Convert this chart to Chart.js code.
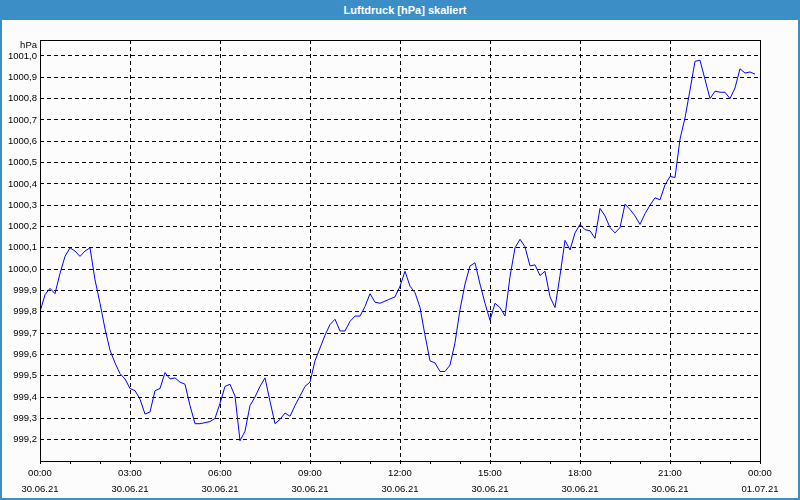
<!DOCTYPE html>
<html lang="de">
<head>
<meta charset="UTF-8">
<title>Luftdruck [hPa] skaliert</title>
<script src="https://cdn.jsdelivr.net/npm/chart.js"></script>
<style>
    body { margin: 0; width: 800px; height: 500px; background: #fbfcfb; position: relative; overflow: hidden; font-family: "Liberation Sans", Arial, sans-serif; }
    .titel { position: absolute; left: 0; top: 0; width: 800px; height: 20px; background: #3c8fc6; color: #fff; font-weight: bold; font-size: 11px; line-height: 20px; text-align: center; box-sizing: border-box; padding-left: 10px; }
    .rahmen { position: absolute; left: 0; top: 0; width: 800px; height: 500px; box-sizing: border-box; border: 2px solid #3c8fc6; pointer-events: none; }
    canvas { position: absolute; left: 0; top: 0; }
</style>
</head>
<body>
<canvas id="grafico" width="800" height="500"></canvas>
<div class="titel">Luftdruck [hPa] skaliert</div>
<div class="rahmen"></div>

<script>
    // Messwerte alle 10 Minuten, 30.06.21 00:00 bis 23:50
    const intervallMinuten = 10;
    const luftdruck = [
        999.80, 999.88, 999.91, 999.885, 999.98, 1000.06, 1000.10, 1000.085, 1000.06, 1000.085,
        1000.10, 999.95, 999.84, 999.72, 999.62, 999.56, 999.51, 999.485, 999.44, 999.43,
        999.39, 999.32, 999.33, 999.43, 999.44, 999.515, 999.485, 999.49, 999.47, 999.46,
        999.36, 999.275, 999.275, 999.28, 999.285, 999.30, 999.37, 999.45, 999.46, 999.405,
        999.195, 999.24, 999.36, 999.40, 999.45, 999.49, 999.38, 999.275, 999.295, 999.325,
        999.31, 999.36, 999.405, 999.45, 999.47, 999.57, 999.63, 999.69, 999.74, 999.765,
        999.71, 999.71, 999.755, 999.78, 999.78, 999.825, 999.885, 999.845, 999.84, 999.85,
        999.86, 999.87, 999.92, 999.99, 999.92, 999.89, 999.82, 999.69, 999.57, 999.56,
        999.52, 999.52, 999.55, 999.655, 999.81, 999.93, 1000.015, 1000.03, 999.93, 999.84,
        999.76, 999.84, 999.82, 999.78, 999.965, 1000.10, 1000.14, 1000.105, 1000.015, 1000.02,
        999.97, 999.99, 999.87, 999.82, 999.97, 1000.135, 1000.09, 1000.17, 1000.21, 1000.185,
        1000.18, 1000.145, 1000.285, 1000.25, 1000.195, 1000.17, 1000.195, 1000.305, 1000.28, 1000.25,
        1000.21, 1000.26, 1000.30, 1000.335, 1000.325, 1000.395, 1000.435, 1000.43, 1000.61, 1000.71,
        1000.84, 1000.975, 1000.98, 1000.89, 1000.80, 1000.835, 1000.83, 1000.83, 1000.80, 1000.85,
        1000.94, 1000.92, 1000.925, 1000.915
    ];

    const xZeiten = ['00:00', '03:00', '06:00', '09:00', '12:00', '15:00', '18:00', '21:00', '00:00'];
    const xDaten = ['30.06.21', '30.06.21', '30.06.21', '30.06.21', '30.06.21', '30.06.21', '30.06.21', '30.06.21', '01.07.21'];
    const yTicks = [999.2, 999.3, 999.4, 999.5, 999.6, 999.7, 999.8, 999.9, 1000.0,
        1000.1, 1000.2, 1000.3, 1000.4, 1000.5, 1000.6, 1000.7, 1000.8, 1000.9, 1001.0];

    const punkte = luftdruck.map((v, i) => ({ x: i * intervallMinuten, y: v }));

    // Rahmen um die Zeichenfläche und Einheit oben links
    const rahmenPlugin = {
        id: 'rahmen',
        afterDraw(chart) {
            const { ctx, chartArea: a } = chart;
            ctx.save();
            ctx.strokeStyle = '#000';
            ctx.lineWidth = 1;
            ctx.strokeRect(a.left + 0.5, a.top + 0.5, a.right - a.left, a.bottom - a.top);
            ctx.fillStyle = '#000';
            ctx.font = '9.5px "Liberation Sans"';
            ctx.textAlign = 'right';
            ctx.textBaseline = 'middle';
            ctx.fillText('hPa', a.left - 3, a.top + 5);
            ctx.restore();
        }
    };

    Chart.defaults.font.family = '"Liberation Sans", Arial, sans-serif';
    Chart.defaults.font.size = 9.5;
    Chart.defaults.color = '#000';

    new Chart(document.getElementById('grafico'), {
        type: 'line',
        data: {
            datasets: [{
                data: punkte,
                borderColor: '#0000ff',
                borderWidth: 1,
                pointRadius: 0,
                tension: 0,
                fill: false
            }]
        },
        options: {
            responsive: false,
            animation: false,
            layout: { padding: { top: 40, right: 40, bottom: 0, left: 0 } },
            plugins: { legend: { display: false }, tooltip: { enabled: false } },
            scales: {
                x: {
                    type: 'linear',
                    min: 0,
                    max: 1440,
                    afterFit: (scale) => { scale.height = 39; },
                    border: { display: false, dash: [4, 3] },
                    grid: {
                        color: (c) => (c.tick && c.tick.value % 180 === 0) ? '#000' : 'rgba(0,0,0,0)',
                        tickColor: '#000',
                        tickLength: 3,
                        tickBorderDash: []
                    },
                    ticks: {
                        stepSize: 60,
                        autoSkip: false,
                        maxRotation: 0,
                        padding: 1,
                        font: { size: 9.5, lineHeight: '16px' },
                        callback: (v) => v % 180 === 0 ? [xZeiten[v / 180], xDaten[v / 180]] : ''
                    }
                },
                y: {
                    min: 999.1,
                    max: 1001.075,
                    afterFit: (scale) => { scale.width = 40; },
                    afterBuildTicks: (scale) => { scale.ticks = yTicks.map(v => ({ value: v })); },
                    border: { display: false, dash: [4, 3] },
                    grid: { color: '#000', drawTicks: false },
                    ticks: {
                        padding: 3,
                        callback: (v) => v.toFixed(1).replace('.', ',')
                    }
                }
            }
        },
        plugins: [rahmenPlugin]
    });
</script>
</body>
</html>
